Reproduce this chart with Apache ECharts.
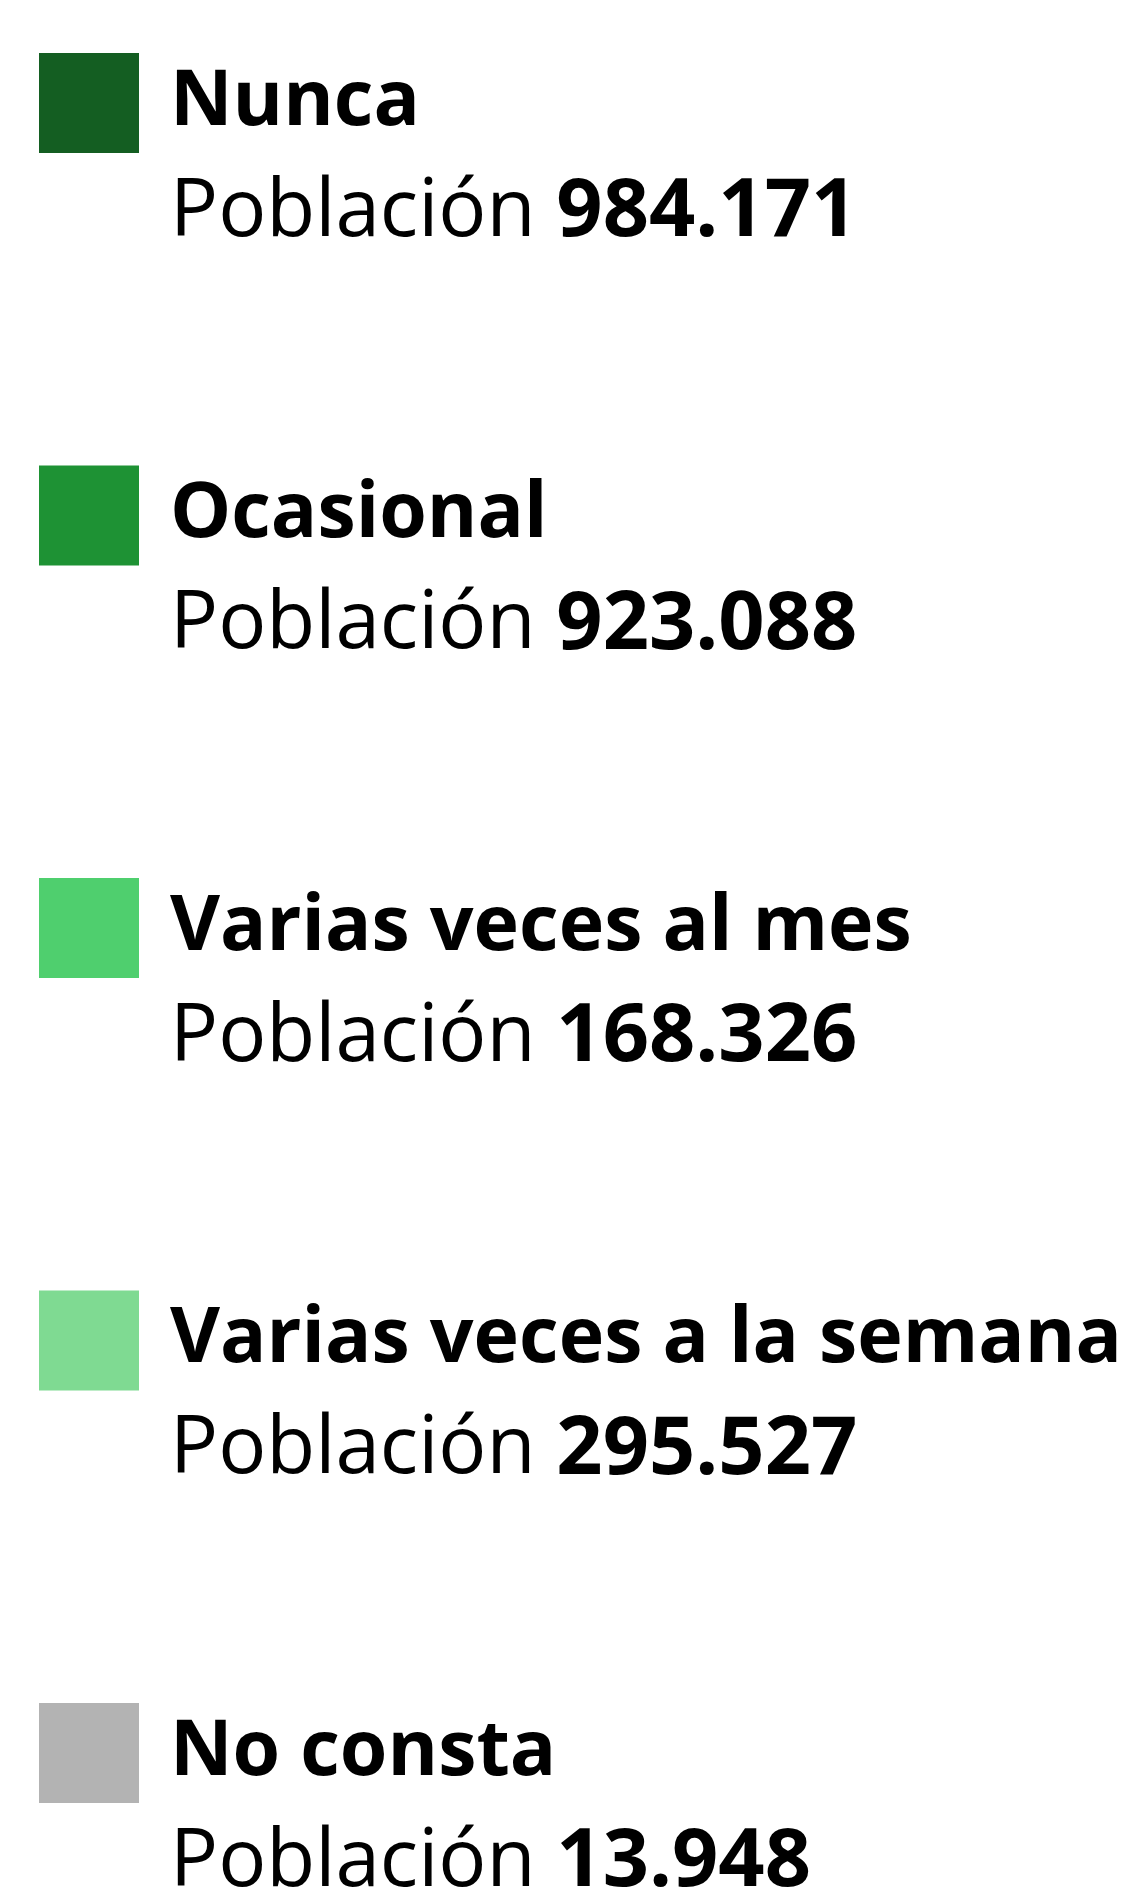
<!DOCTYPE html>
<html>
<head>
<meta charset="utf-8">
<script src="https://cdn.jsdelivr.net/npm/echarts@6/dist/echarts.min.js"></script>
<style>
  html,body{margin:0;padding:0;background:#fff;}
  #main{width:1129px;height:1892px;}
</style>
</head>
<body>
<div id="main"></div>
<script>
var categories = ['Nunca', 'Ocasional', 'Varias veces al mes', 'Varias veces a la semana', 'No consta'];
var poblacion = [984171, 923088, 168326, 295527, 13948];
var colores = ['#145e22', '#1e9234', '#4fcf6e', '#7fda92', '#b3b3b3'];

function fmtNum(n){
  return String(n).replace(/\B(?=(\d{3})+(?!\d))/g, '.');
}

var chart = echarts.init(document.getElementById('main'));
var option = {
  backgroundColor: '#fff',
  animation: false,
  legend: {
    orient: 'vertical',
    left: 39,
    top: -12,
    width: 1100,
    height: 2400,
    padding: 0,
    itemWidth: 100,
    itemHeight: 100,
    itemGap: 147,
    icon: 'rect',
    selectedMode: false,
    data: categories,
    formatter: function(name){
      var i = categories.indexOf(name);
      return '{e| }\n{t|' + name + '}\n{p|Población }{v|' + fmtNum(poblacion[i]) + '}';
    },
    textStyle: {
      padding: [0, 0, 0, 26],
      rich: {
        e: {lineHeight: 110, fontSize: 10},
        t: {fontFamily: 'Open Sans', fontSize: 77, fontWeight: 'bold', color: '#000', lineHeight: 110},
        p: {fontFamily: 'Open Sans', fontSize: 80, fontWeight: 'normal', color: '#000', lineHeight: 110},
        v: {fontFamily: 'Open Sans', fontSize: 81, fontWeight: 'bold', color: '#000', lineHeight: 110}
      }
    }
  },
  series: [{
    type: 'pie',
    radius: 0,
    center: [-500, -500],
    label: {show: false},
    data: categories.map(function(c, i){
      return {name: c, value: poblacion[i], itemStyle: {color: colores[i]}};
    })
  }]
};
chart.setOption(option);
</script>
</body>
</html>
